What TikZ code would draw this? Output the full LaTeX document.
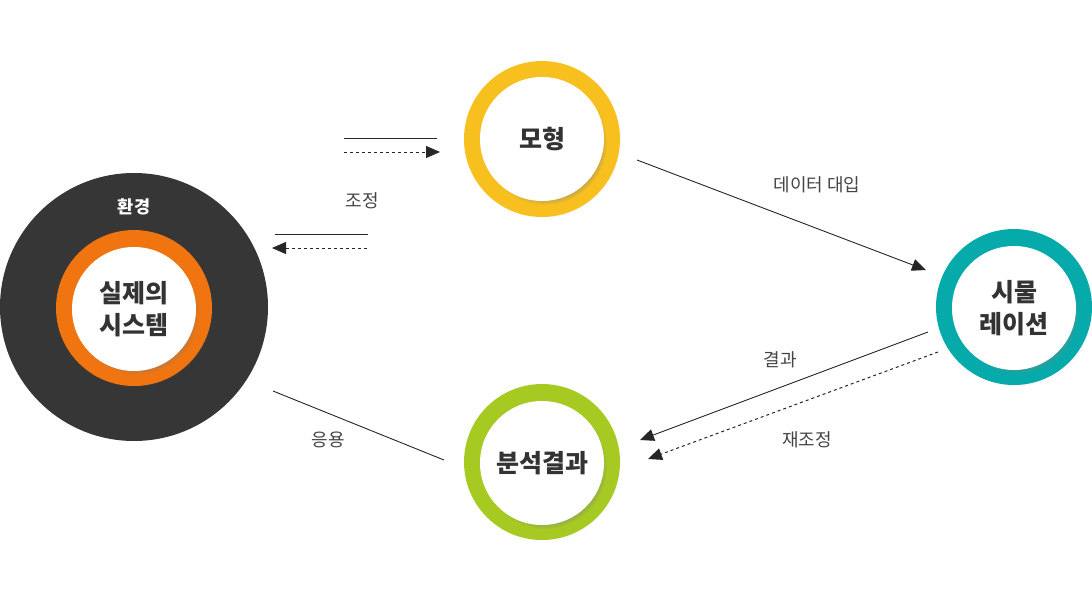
\documentclass[tikz,border=0pt]{standalone}
\usepackage{fontspec}
\setmainfont{Noto Sans CJK KR}
\usetikzlibrary{arrows.meta,shadows}
\definecolor{envgray}{HTML}{363636}
\definecolor{ringorange}{HTML}{F0740F}
\definecolor{ringyellow}{HTML}{F8C01F}
\definecolor{ringteal}{HTML}{07AAAA}
\definecolor{ringgreen}{HTML}{A6CA22}
\definecolor{txtdark}{HTML}{333333}
\definecolor{lbl}{HTML}{444444}
\definecolor{linec}{HTML}{262626}
\begin{document}
\begin{tikzpicture}[x=1pt,y=-1pt,
  ring/.style={circle, inner sep=0pt, minimum size=156pt, fill=#1,
     circular drop shadow={shadow xshift=1.5pt, shadow yshift=-2pt, shadow scale=1.0, opacity=0.2}},
  core/.style={circle, inner sep=0pt, minimum size=124pt, fill=white, align=center,
     text=txtdark, font=\fontsize{25}{32}\selectfont\bfseries,
     circular drop shadow={shadow xshift=3pt, shadow yshift=-4pt, shadow scale=1.0, opacity=0.65}},
  lab/.style={text=lbl, font=\fontsize{18}{22}\selectfont, inner sep=0pt},
  conn/.style={draw=linec, line width=0.9pt},
  dotline/.style={draw=linec, line width=1pt, dash pattern=on 3pt off 3pt},
  tip/.style={-{Triangle[length=14pt,width=12pt]}}
]
\useasboundingbox (0,0) rectangle (1092,602);

% environment
\node[circle, inner sep=0pt, minimum size=268pt, fill=envgray] (env) at (134,307) {};
\node[text=white, font=\fontsize{17.5}{20}\selectfont\bfseries, inner sep=0pt] (envlab) at (134,207) {환경};
\node[ring=ringorange] (sysring) at (134,308) {};
\node[core] (sys) at (134,309) {실제의\\시스템};

% model
\node[ring=ringyellow] (modring) at (542,139) {};
\node[core] (mod) at (542,139) {모형};

% simulation
\node[ring=ringteal] (simring) at (1014,307) {};
\node[core] (sim) at (1014,308) {시물\\레이션};

% analysis
\node[ring=ringgreen] (anaring) at (542,462) {};
\node[core] (ana) at (542,463) {분석결과};

% coordinates
\coordinate (a1) at (344,138); \coordinate (a2) at (437,138);
\coordinate (b1) at (344,152); \coordinate (b2) at (440,152);
\coordinate (c1) at (275,234); \coordinate (c2) at (368,234);
\coordinate (d1) at (367,248); \coordinate (d2) at (272,248);
\coordinate (e1) at (637,160); \coordinate (e2) at (926,270);
\coordinate (f1) at (928,332); \coordinate (f2) at (640,440);
\coordinate (g1) at (938,352); \coordinate (g2) at (648,459);
\coordinate (h1) at (273,391); \coordinate (h2) at (444,460);

\draw[conn] (a1) -- (a2);
\draw[dotline, tip] (b1) -- (b2);
\draw[conn] (c1) -- (c2);
\draw[dotline, tip] (d1) -- (d2);
\draw[conn, tip] (e1) -- (e2);
\draw[conn, tip] (f1) -- (f2);
\draw[dotline, tip] (g1) -- (g2);
\draw[conn] (h1) -- (h2);

\node[lab] (l1) at (362,201) {조정};
\node[lab] (l2) at (817,185) {데이터 대입};
\node[lab] (l3) at (780,360) {결과};
\node[lab] (l4) at (807,440) {재조정};
\node[lab] (l5) at (328,440) {응용};
\end{tikzpicture}
\end{document}
